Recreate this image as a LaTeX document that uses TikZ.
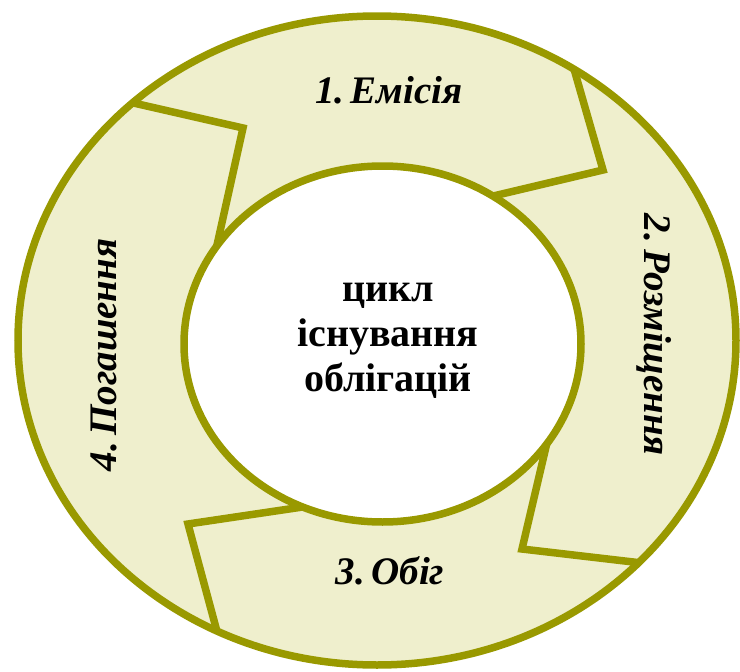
\documentclass[tikz,border=0pt]{standalone}
\usepackage{fontspec}
\setmainfont{Liberation Serif}
\definecolor{olivestroke}{RGB}{153,153,0}
\definecolor{ringfill}{RGB}{239,239,205}
\tikzset{
  ringline/.style={draw=olivestroke, line width=7.5pt, line join=miter},
  lbl/.style={font=\fontsize{39}{45}\selectfont\bfseries\itshape, inner sep=0pt},
  centertext/.style={font=\fontsize{40}{45}\selectfont\bfseries, align=center, inner sep=0pt}
}
\begin{document}
\begin{tikzpicture}[x=1pt,y=-1pt]
\useasboundingbox (0,0) rectangle (740,672);
% ring
\fill[ringfill] (377,340.5) ellipse [x radius=359pt, y radius=324.5pt];
\fill[white] (382.5,344) ellipse [x radius=198.5pt, y radius=178pt];
% boundary points
\coordinate (o41) at ({377+359*cos(227.1)},{340.5+324.5*sin(227.1)});
\coordinate (o12) at ({377+359*cos(-56.7)},{340.5+324.5*sin(-56.7)});
\coordinate (o23) at ({377+359*cos(43.2)},{340.5+324.5*sin(43.2)});
\coordinate (o34) at ({377+359*cos(116.5)},{340.5+324.5*sin(116.5)});
\coordinate (i41) at ({382.5+198.5*cos(213.4)},{344+178*sin(213.4)});
\coordinate (i12) at ({382.5+198.5*cos(-56.2)},{344+178*sin(-56.2)});
\coordinate (i23) at ({382.5+198.5*cos(34.2)},{344+178*sin(34.2)});
\coordinate (i34) at ({382.5+198.5*cos(113.7)},{344+178*sin(113.7)});
\coordinate (v41) at (243,128);
\coordinate (v12) at (603,170);
\coordinate (v23) at (522,549);
\coordinate (v34) at (188,524);
\draw[ringline] (o41) -- (v41) -- (i41);
\draw[ringline] (o12) -- (v12) -- (i12);
\draw[ringline] (i23) -- (v23) -- (o23);
\draw[ringline] (i34) -- (v34) -- (o34);
\draw[ringline] (377,340.5) ellipse [x radius=359pt, y radius=324.5pt];
\draw[ringline] (382.5,344) ellipse [x radius=198.5pt, y radius=178pt];
% labels
\node[lbl] (l1) at (389,90) {1.\,Емісія};
\node[lbl, rotate=-90] (l2) at (654,335) {2.\,Розміщення};
\node[lbl] (l3) at (390,571) {3.\,Обіг};
\node[lbl, rotate=90] (l4) at (104,355) {4.\,Погашення};
\node[centertext] (c) at (388,341) {цикл\\існування\\облігацій};
\end{tikzpicture}
\end{document}
